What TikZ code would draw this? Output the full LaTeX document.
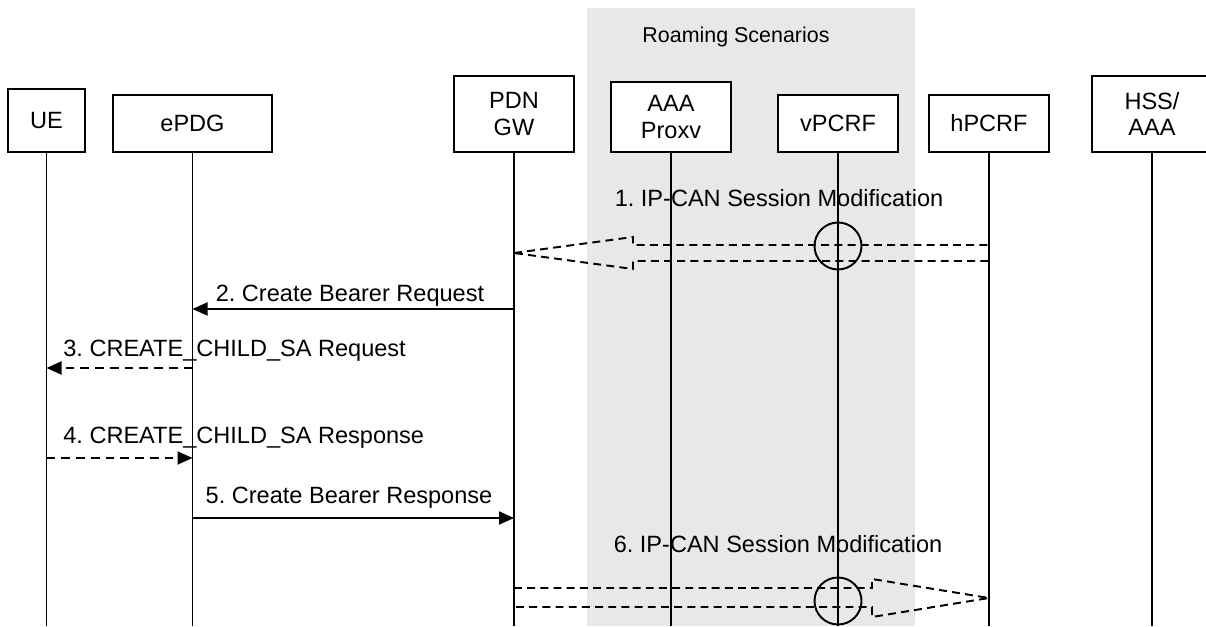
\documentclass[tikz,border=0pt]{standalone}
\usepackage{fontspec}
\setmainfont{Liberation Sans}
\usetikzlibrary{arrows.meta,calc,positioning}
\definecolor{roamgray}{gray}{0.91}
\frenchspacing

\begin{document}
\begin{tikzpicture}[
  >={Triangle[length=3mm, width=2.6mm]},
  ent/.style    = {draw, fill=white, line width=1.1pt, inner sep=0pt, anchor=south,
                   align=center, font=\fontsize{13.4}{15.2}\selectfont},
  life/.style   = {line width=1.1pt},
  msg/.style    = {->, line width=1.1pt},
  dmsg/.style   = {msg, dash pattern=on 5pt off 3.4pt},
  hollow/.style = {line width=1.1pt, dash pattern=on 4.5pt off 3pt},
  lbl/.style    = {anchor=base, inner sep=0pt, font=\fontsize{13.4}{15.2}\selectfont},
]

\useasboundingbox (0,0) rectangle (24.12,12.52);

%% ---- roaming area --------------------------------------------------------
\fill[roamgray] (11.74,0) rectangle (18.30,12.36);
\node[lbl, font=\fontsize{12.2}{14}\selectfont] (roam) at (14.72,11.66) {Roaming Scenarios};

%% ---- entities ------------------------------------------------------------
\node[ent, minimum width=1.54cm, minimum height=1.26cm] (ue)    at (0.93,9.46)  {UE};
\node[ent, minimum width=3.18cm, minimum height=1.14cm] (epdg)  at (3.85,9.46)  {ePDG};
\node[ent, minimum width=2.40cm, minimum height=1.52cm] (pgw)   at (10.28,9.46) {PDN\\GW};
\node[ent, minimum width=2.40cm, minimum height=1.40cm] (aaa)   at (13.42,9.46) {AAA\\Proxv};
\node[ent, minimum width=2.40cm, minimum height=1.14cm] (vpcrf) at (16.76,9.46) {vPCRF};
\node[ent, minimum width=2.40cm, minimum height=1.14cm] (hpcrf) at (19.78,9.46) {hPCRF};
\node[ent, minimum width=2.40cm, minimum height=1.52cm] (hss)   at (23.04,9.46) {HSS/\\AAA};

\foreach \n in {ue,epdg,pgw,aaa,vpcrf,hpcrf,hss}
  \draw[life] (\n.south) -- (\n.south |- 0,0);

%% ---- 1. IP-CAN session modification --------------------------------------
\node[lbl] (m1) at (15.58,8.38) {1. IP-CAN Session Modification};
\draw[hollow] (pgw |- 0,7.46) -- (12.66,7.78) -- (12.66,7.62) -- (hpcrf |- 0,7.62)
  -- (hpcrf |- 0,7.30) -- (12.66,7.30) -- (12.66,7.14) -- cycle;
\draw[life] (vpcrf |- 0,7.60) circle (0.47);

%% ---- 2. to 5. ------------------------------------------------------------
\node[lbl] (m2) at (7.00,6.48) {2. Create Bearer Request};
\draw[msg] (pgw |- 0,6.34) -- (epdg |- 0,6.34);

\node[lbl, anchor=base west] (m3) at (1.26,5.38) {3. CREATE\_CHILD\_SA Request};
\draw[dmsg] (epdg |- 0,5.16) -- (ue |- 0,5.16);

\node[lbl, anchor=base west] (m4) at (1.26,3.66) {4. CREATE\_CHILD\_SA Response};
\draw[dmsg] (ue |- 0,3.36) -- (epdg |- 0,3.36);

\node[lbl] (m5) at (6.98,2.46) {5. Create Bearer Response};
\draw[msg] (epdg |- 0,2.16) -- (pgw |- 0,2.16);

%% ---- 6. IP-CAN session modification --------------------------------------
\node[lbl] (m6) at (15.56,1.48) {6. IP-CAN Session Modification};
\draw[hollow] (pgw |- 0,0.76) -- (17.44,0.76) -- (17.44,0.94) -- (hpcrf |- 0,0.56)
  -- (17.44,0.18) -- (17.44,0.38) -- (pgw |- 0,0.38) -- cycle;
\draw[life] (vpcrf |- 0,0.50) circle (0.47);

\end{tikzpicture}
\end{document}
